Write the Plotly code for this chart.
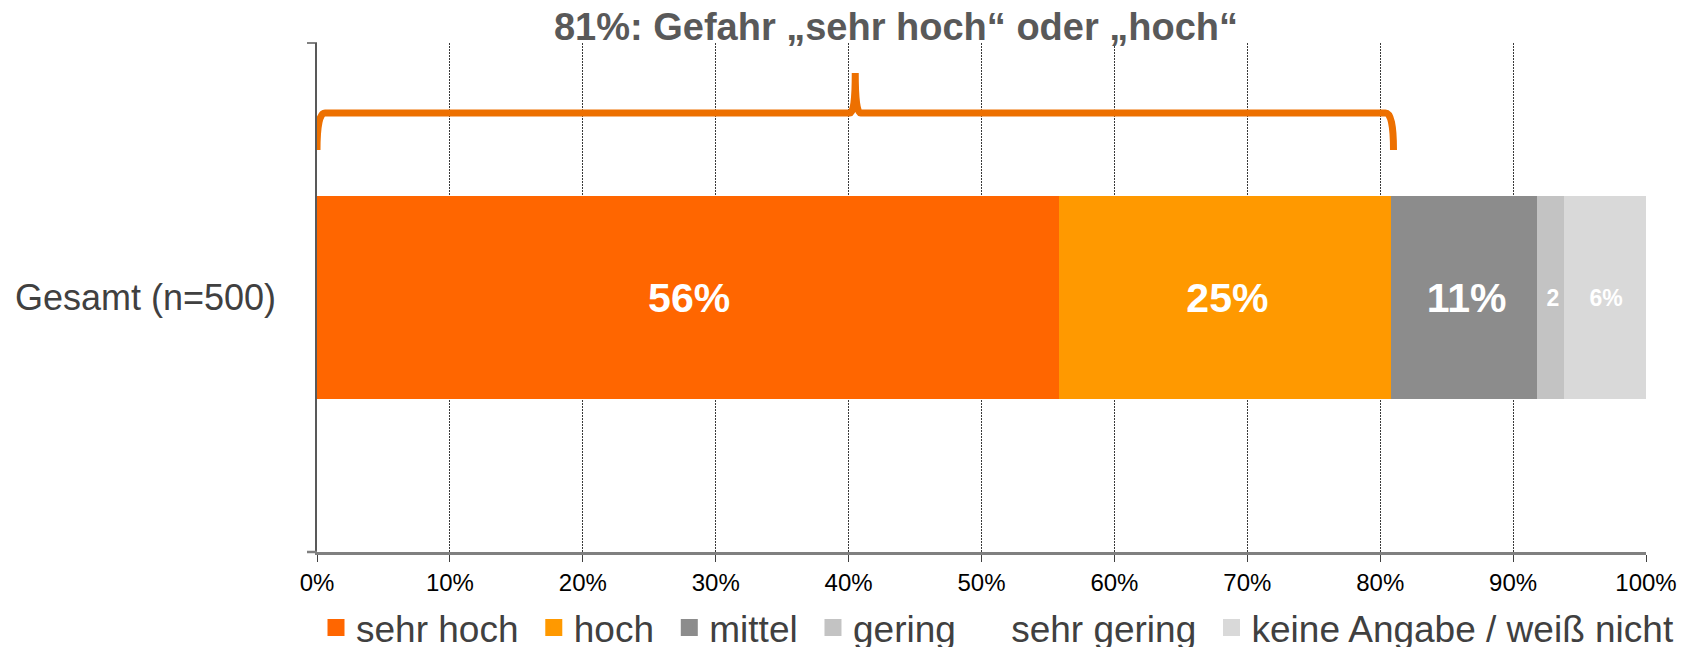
import plotly.graph_objects as go

# ---- data ----
categories = ["Gesamt (n=500)"]
series_names = ["sehr hoch", "hoch", "mittel", "gering", "sehr gering", "keine Angabe / weiß nicht"]
series_values = [56, 25, 11, 2, 0, 6]
bar_labels = ["56%", "25%", "11%", "2", "", "6%"]
label_sizes = [41, 41, 41, 23, 23, 23]
series_colors = ["#FF6600", "#FF9900", "#8C8C8C", "#C3C3C3", "#FFFFFF", "#D9D9D9"]
x_ticks = list(range(0, 101, 10))
x_tick_labels = [f"{t}%" for t in x_ticks]
title_text = "81%: Gefahr „sehr hoch“ oder „hoch“"

FONT = "Liberation Sans, Arial, sans-serif"
OFF = 8                      # default page body margin
W, H = 1696 - OFF, 647 - OFF
PL, PR, PT, PB = 317, 1646, 43, 552   # plot area in page pixels
ML, MR, MT, MB = PL - OFF, (W + OFF) - PR, PT - OFF, (H + OFF) - PB
plot_w, plot_h = PR - PL, PB - PT

def py(p):   # page pixel y -> paper y
    return (PB - p) / plot_h

def pxp(p):  # page pixel x -> paper x
    return (p - PL) / plot_w

EDGE = 5     # same-colour outline, enlarges the legend squares
fig = go.Figure()
for name, val, color, lab, fs in zip(series_names, series_values, series_colors, bar_labels, label_sizes):
    lw = EDGE if val > 0 else 0
    fig.add_trace(go.Bar(
        y=categories, x=[val], name=name + "\u00a0", orientation="h",
        marker=dict(color=color, line=dict(width=lw, color=color)),
        text=[lab], textposition="inside", insidetextanchor="middle",
        textfont=dict(family=FONT, size=fs, color="white", weight="bold"),
        width=(203 - EDGE) / plot_h, hoverinfo="skip",
    ))

# bracket over "sehr hoch" + "hoch"
top = series_values[0] + series_values[1]
mid = top / 2
yb, yh, yt = py(150), py(113), py(73)
r, c = 0.6, 0.4
path = (f"M 0,{yb} Q 0,{yh} {r},{yh} L {mid - c},{yh} Q {mid},{yh} {mid},{yt} "
        f"Q {mid},{yh} {mid + c},{yh} L {top - r},{yh} Q {top},{yh} {top},{yb}")
shapes = [
    dict(type="path", path=path, xref="x", yref="paper",
         line=dict(color="#ED7000", width=7), layer="above"),
    # boundary ticks on the category axis
    dict(type="line", xref="paper", yref="paper", x0=-10 / plot_w, x1=0, y0=1, y1=1,
         line=dict(color="#595959", width=1.5)),
    dict(type="line", xref="paper", yref="paper", x0=-10 / plot_w, x1=0, y0=0, y1=0,
         line=dict(color="#808080", width=2.5)),
]

fig.update_layout(
    width=W, height=H,
    margin=dict(l=ML, r=MR, t=MT, b=MB, pad=0, autoexpand=False),
    barmode="stack",
    paper_bgcolor="white", plot_bgcolor="white",
    font=dict(family=FONT, color="#404040"),
    title=dict(text=title_text, x=pxp(896), xref="paper", xanchor="center",
               y=1 - (27 - OFF) / H, yref="container", yanchor="middle",
               font=dict(family=FONT, size=38, color="#595959", weight="bold")),
    xaxis=dict(range=[0, 100], tickvals=x_ticks, ticktext=x_tick_labels,
               showgrid=True, gridcolor="#3a3a3a", gridwidth=1, griddash="2px,1px",
               showline=True, linecolor="#808080", linewidth=2.5,
               ticks="outside", ticklen=7, tickcolor="#404040", tickwidth=1,
               tickfont=dict(family=FONT, size=24, color="#000000"),
               zeroline=False, fixedrange=True, automargin=False, layer="above traces"),
    yaxis=dict(range=[-0.5, 0.5], showline=True, linecolor="#595959", linewidth=1.5,
               ticks="", ticklabelstandoff=32,
               tickfont=dict(family=FONT, size=36, color="#404040"),
               showgrid=False, zeroline=False, fixedrange=True, automargin=False,
               layer="above traces"),
    showlegend=True,
    legend=dict(orientation="h", traceorder="normal",
                x=pxp(316), xref="paper", xanchor="left",
                y=py(628), yref="paper", yanchor="middle",
                font=dict(family=FONT, size=37, color="#404040"),
                bgcolor="rgba(0,0,0,0)"),
    shapes=shapes,
)

fig.write_html("out.html")
